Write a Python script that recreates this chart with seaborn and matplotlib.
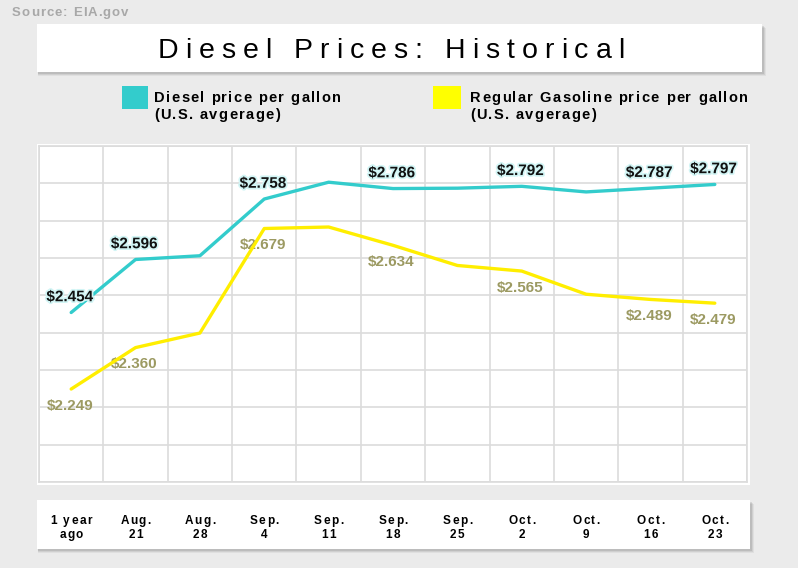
import numpy as np
import pandas as pd
import seaborn as sns
import matplotlib.pyplot as plt
import matplotlib.patheffects as pe
from matplotlib.patches import Rectangle
from matplotlib.font_manager import FontProperties, findfont, get_font

# weekly prices
weeks = ['1 year\nago', 'Aug.\n21', 'Aug.\n28', 'Sep.\n4', 'Sep.\n11', 'Sep.\n18',
         'Sep.\n25', 'Oct.\n2', 'Oct.\n9', 'Oct.\n16', 'Oct.\n23']
diesel = [2.454, 2.596, 2.606, 2.758, 2.803, 2.786, 2.787, 2.792, 2.777, 2.787, 2.797]
gasoline = [2.249, 2.360, 2.399, 2.679, 2.683, 2.634, 2.580, 2.565, 2.503, 2.489, 2.479]
labeled = [0, 1, 3, 5, 7, 9, 10]  # weeks that carry a price label

DIESEL_C = '#33cccc'
GAS_C = '#ffee00'
GAS_LABEL_C = '#9c9a62'
GRID_C = '#dcdcdc'
BG = '#ebebeb'

sns.set_style('white')
plt.rcParams['font.family'] = ['Liberation Sans', 'DejaVu Sans']

W, H = 798, 568
fig = plt.figure(figsize=(W / 100, H / 100), dpi=100, facecolor=BG)


def fx(x):
    return x / W


def fy(y):
    return 1 - y / H


def box(x0, y0, x1, y1, shadow=True):
    # white card with a soft shadow under it
    if shadow:
        for k, a in [(4, 0.05), (3, 0.07), (2, 0.09)]:
            fig.patches.append(Rectangle((fx(x0 + 1), fy(y1 + k)), fx(x1 - x0 + k - 1), (y1 - y0) / H,
                                         transform=fig.transFigure, color='#000000', alpha=a, lw=0, zorder=-2))
    fig.patches.append(Rectangle((fx(x0), fy(y1)), fx(x1 - x0), (y1 - y0) / H,
                                 transform=fig.transFigure, color='white', lw=0, zorder=-1))


def spaced_text(x, y, s, size, spacing, weight='normal', color='black', ha='left'):
    # text with letter spacing, y is the baseline in pixels
    prop = FontProperties(family='Liberation Sans', weight=weight, size=size)
    font = get_font(findfont(prop))
    font.set_size(size, fig.dpi)
    advs = [font.load_char(ord(c)).linearHoriAdvance / 65536 for c in s]
    total = sum(advs) + spacing * (len(s) - 1)
    if ha == 'center':
        x -= total / 2
    for c, a in zip(s, advs):
        if c != ' ':
            fig.text(fx(x), fy(y), c, fontproperties=prop, color=color, ha='left', va='baseline')
        x += a + spacing


# cards
box(37, 24, 762, 72)
box(37, 500, 750, 549)
box(37, 144, 750, 485, shadow=False)

# source + title
spaced_text(12, 16, 'Source: EIA.gov', 9.5, 1.0, weight='bold', color='#a8a8a8')
spaced_text(391, 57.5, 'Diesel Prices: Historical', 20.5, 7.0, ha='center')

# legend
fig.patches.append(Rectangle((fx(122), fy(109)), fx(26), 23 / H, transform=fig.transFigure, color=DIESEL_C, lw=0))
fig.patches.append(Rectangle((fx(433), fy(109)), fx(28), 23 / H, transform=fig.transFigure, color='#ffff00', lw=0))
spaced_text(154, 102, 'Diesel price per gallon', 10.5, 1.4, weight='bold')
spaced_text(154, 119, '(U.S. avgerage)', 10.5, 1.4, weight='bold')
spaced_text(470, 102, 'Regular Gasoline price per gallon', 10.5, 1.4, weight='bold')
spaced_text(470, 119, '(U.S. avgerage)', 10.5, 1.4, weight='bold')

# main panel
ax = fig.add_axes([fx(39), fy(482), fx(708), 336 / H])
ax.set_zorder(1)
ax.set_facecolor('white')

df = pd.DataFrame({
    'pos': list(range(len(weeks))) * 2,
    'price': diesel + gasoline,
    'series': ['Diesel'] * len(weeks) + ['Gasoline'] * len(weeks),
})
sns.lineplot(data=df, x='pos', y='price', hue='series',
             palette={'Diesel': DIESEL_C, 'Gasoline': GAS_C},
             linewidth=2.4, legend=False, ax=ax, zorder=3)

ax.set_xlim(-0.5, len(weeks) - 0.5)
ax.set_ylim(2.0, 2.9)
ax.set_xticks(np.arange(-0.5, len(weeks), 1))
ax.set_yticks(np.arange(2.0, 2.91, 0.1))
ax.set_xticklabels([])
ax.set_yticklabels([])
ax.tick_params(length=0)
ax.set_xlabel('')
ax.set_ylabel('')
ax.grid(True, color=GRID_C, linewidth=1.2)
ax.set_axisbelow(True)
for sp in ax.spines.values():
    sp.set_color(GRID_C)
    sp.set_linewidth(1.2)

for i in labeled:
    ax.annotate(f'${diesel[i]:.3f}', (i, diesel[i]), xytext=(-1, 11), textcoords='offset points',
                ha='center', va='center', fontsize=11, fontweight='bold', color='#111111', zorder=5,
                path_effects=[pe.withStroke(linewidth=2.5, foreground='#d2f5f5')])
    ax.annotate(f'${gasoline[i]:.3f}', (i, gasoline[i]), xytext=(-1, -12), textcoords='offset points',
                ha='center', va='center', fontsize=11, fontweight='bold', color=GAS_LABEL_C, zorder=2)

# week labels in the lower card, placed at the data positions
fig.canvas.draw()
for i, w in enumerate(weeks):
    xpix = ax.transData.transform((i, 2.0))[0]
    l1, l2 = w.split('\n')
    spaced_text(xpix, 524.3, l1, 8.5, 1.5, weight='bold', ha='center')
    spaced_text(xpix, 537.7, l2, 8.5, 1.5, weight='bold', ha='center')

fig.savefig('out.png', dpi=100, facecolor=BG)
